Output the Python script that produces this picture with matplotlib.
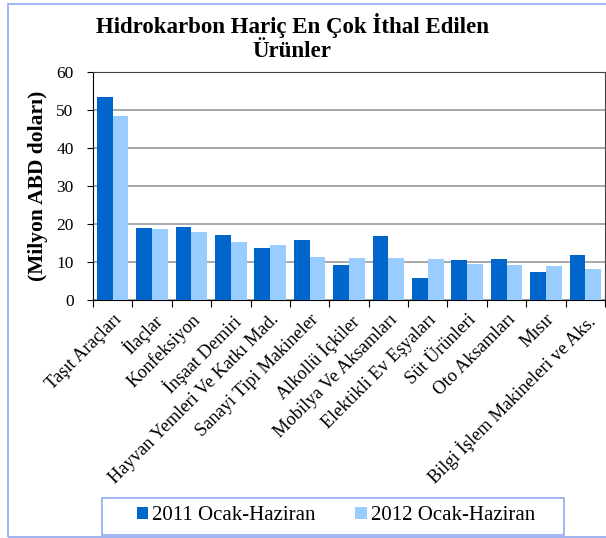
import numpy as np
import matplotlib
matplotlib.use("Agg")
import matplotlib.pyplot as plt
import matplotlib.patches as patches

plt.rcParams['font.family'] = ['Liberation Serif', 'DejaVu Serif']

urunler = ["Taşıt Araçları", "İlaçlar", "Konfeksiyon", "İnşaat Demiri",
           "Hayvan Yemleri Ve Katkı Mad.", "Sanayi Tipi Makineler",
           "Alkollü İçkiler", "Mobilya Ve Aksamları", "Elektikli Ev Eşyaları",
           "Süt Ürünleri", "Oto Aksamları", "Mısır",
           "Bilgi İşlem Makineleri ve Aks."]
y2011 = [53.4, 18.9, 19.3, 17.0, 13.6, 15.9, 9.3, 16.9, 5.9, 10.4, 10.7, 7.3, 11.8]
y2012 = [48.3, 18.8, 17.8, 15.2, 14.4, 11.2, 11.1, 11.0, 10.9, 9.5, 9.3, 8.9, 8.2]
yticks = [0, 10, 20, 30, 40, 50, 60]

koyu = '#0066CC'
acik = '#99CCFF'
kenar = '#8FA8F0'

fig = plt.figure(figsize=(6.06, 5.38), dpi=100)
ax = fig.add_axes([93/606, 1-300/538, 512/606, 228/538])

x = np.arange(len(urunler))
w = 0.4
ax.bar(x - w/2, y2011, w, color=koyu, label='2011 Ocak-Haziran', zorder=3)
ax.bar(x + w/2, y2012, w, color=acik, label='2012 Ocak-Haziran', zorder=3)

ax.set_xlim(-0.5, len(urunler) - 0.5)
ax.set_ylim(0, 60)
ax.set_yticks(yticks)
ax.yaxis.grid(True, color='#999999', linewidth=1.2, zorder=0)
ax.tick_params(axis='y', labelsize=12.5, length=4, direction='out', pad=10)

# kategori sinirlarinda tick, etiketler ortada
ax.set_xticks(np.arange(len(urunler) + 1) - 0.5)
ax.set_xticklabels([])
ax.set_xticks(x, minor=True)
ax.set_xticklabels(urunler, minor=True, rotation=45, ha='right',
                   rotation_mode='anchor', fontsize=13.2)
ax.tick_params(axis='x', which='major', length=5, direction='out')
ax.tick_params(axis='x', which='minor', length=0, pad=8)

for s in ['top', 'right']:
    ax.spines[s].set_color('#444444')
ax.spines['left'].set_color('black')
ax.spines['bottom'].set_color('black')

ax.set_ylabel('(Milyon ABD doları)', fontsize=15.5, fontweight='bold', labelpad=6)

fig.text(0.482, 0.976, 'Hidrokarbon Hariç En Çok İthal Edilen\nÜrünler',
         ha='center', va='top', fontsize=16.5, fontweight='bold', linespacing=1.22)

# lejant cercevesi elle, yatay bosluk daha genis
fig.patches.append(patches.Rectangle((102/606, 1-535/538), 462/606, 37/538,
                                     transform=fig.transFigure, fill=False,
                                     edgecolor=kenar, linewidth=1.2))
leg = fig.legend(loc='center', bbox_to_anchor=(336/606, 1-516/538), ncol=2,
                 fontsize=15, frameon=False, handlelength=0.55,
                 handleheight=0.55, handletextpad=0.2, columnspacing=1.9,
                 borderpad=0, borderaxespad=0)

fig.patches.append(patches.Rectangle((8/606, 1/538), 1.0, 1-5/538,
                                     transform=fig.transFigure, fill=False,
                                     edgecolor=kenar, linewidth=1.2))

fig.savefig('out.png', dpi=100)
